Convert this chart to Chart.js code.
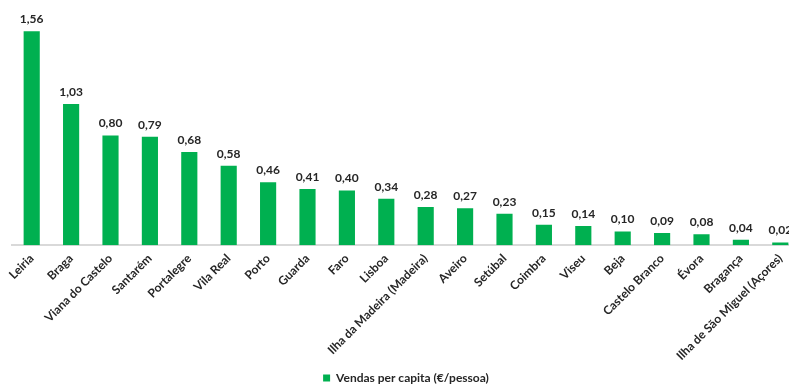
<!DOCTYPE html>
<html>
<head>
<meta charset="utf-8">
<script src="https://cdn.jsdelivr.net/npm/chart.js@4"></script>
<style>
html, body { margin: 0; padding: 0; background: #fff; overflow: hidden; }
#wrap { width: 800px; height: 394px; }
</style>
</head>
<body>
<div id="wrap"><canvas id="salesChart"></canvas></div>
<script>
const districts = ['Leiria', 'Braga', 'Viana do Castelo', 'Santarém', 'Portalegre', 'Vila Real', 'Porto', 'Guarda', 'Faro', 'Lisboa',
    'Ilha da Madeira (Madeira)', 'Aveiro', 'Setúbal', 'Coimbra', 'Viseu', 'Beja', 'Castelo Branco', 'Évora', 'Bragança', 'Ilha de São Miguel (Açores)'];
const salesPerCapita = [1.56, 1.03, 0.80, 0.79, 0.68, 0.58, 0.46, 0.41, 0.40, 0.34, 0.28, 0.27, 0.23, 0.15, 0.14, 0.10, 0.09, 0.08, 0.04, 0.02];
const seriesName = 'Vendas per capita (€/pessoa)';

const barColor = '#00b050';
const textColor = '#262626';
const fontFamily = 'Lato, "Open Sans", sans-serif';

// draws the value above each bar, with a comma as decimal mark
const valueLabels = {
    id: 'valueLabels',
    afterDatasetsDraw(chart) {
        const c = chart.ctx;
        const meta = chart.getDatasetMeta(0);
        c.save();
        c.font = 'bold 12px ' + fontFamily;
        c.fillStyle = textColor;
        c.textAlign = 'center';
        c.textBaseline = 'bottom';
        meta.data.forEach(function (bar, i) {
            c.fillText(salesPerCapita[i].toFixed(2).replace('.', ','), bar.x, bar.y - 6);
        });
        c.restore();
    }
};

const ctx = document.getElementById('salesChart');
const myChart = new Chart(ctx, {
    type: 'bar',
    data: {
        labels: districts,
        datasets: [{
            label: seriesName,
            data: salesPerCapita,
            backgroundColor: barColor,
            borderWidth: 0,
            barPercentage: 0.41,
            categoryPercentage: 1.0
        }]
    },
    options: {
        responsive: true,
        maintainAspectRatio: false,
        animation: false,
        layout: {
            padding: { top: 14, left: 12, right: 0, bottom: 0 }
        },
        scales: {
            y: {
                display: false,
                min: 0,
                max: 1.685
            },
            x: {
                grid: { display: false, drawTicks: false },
                border: { display: true, color: '#d9d9d9', width: 2 },
                ticks: {
                    color: textColor,
                    maxRotation: 45,
                    minRotation: 45,
                    autoSkip: false,
                    padding: 6,
                    font: { family: fontFamily, size: 12, weight: 'bold' }
                }
            }
        },
        plugins: {
            tooltip: { enabled: false },
            legend: {
                display: true,
                position: 'bottom',
                labels: {
                    color: textColor,
                    boxWidth: 7,
                    boxHeight: 7,
                    padding: 3,
                    font: { family: fontFamily, size: 12, weight: 'bold' }
                }
            }
        }
    },
    plugins: [valueLabels]
});
</script>
</body>
</html>
